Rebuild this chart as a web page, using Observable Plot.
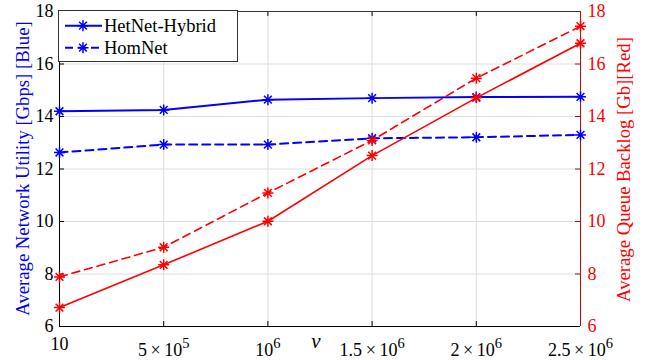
<!DOCTYPE html>
<html><head><meta charset="utf-8">
<script src="https://cdn.jsdelivr.net/npm/d3@7"></script>
<script src="https://cdn.jsdelivr.net/npm/@observablehq/plot@0.6"></script>
<style>body{margin:0;background:#fff;} #chart{width:655px;height:360px;} #chart svg text{font-family:"Liberation Serif","Times New Roman",serif !important;}</style>
</head><body><div id="chart"></div>
<script>
// ---- data ----
const nu = [10, 5e5, 1e6, 1.5e6, 2e6, 2.5e6];
const xTickLabels = ["10", "5\u2009×\u200910^5", "10^6", "1.5\u2009×\u200910^6", "2\u2009×\u200910^6", "2.5\u2009×\u200910^6"];
const yTicks = [6, 8, 10, 12, 14, 16, 18];
const hetNetUtility = [14.20, 14.25, 14.64, 14.70, 14.74, 14.75];
const homNetUtility = [12.63, 12.93, 12.93, 13.17, 13.21, 13.30];
const hetNetBacklog = [6.72, 8.35, 10.01, 12.51, 14.71, 16.79];
const homNetBacklog = [7.89, 9.02, 11.09, 13.09, 15.46, 17.44];
const legendLabels = ["HetNet-Hybrid", "HomNet"];

const rows = [];
[["hetU", hetNetUtility], ["homU", homNetUtility], ["hetB", hetNetBacklog], ["homB", homNetBacklog]]
  .forEach(([s, arr]) => arr.forEach((v, i) => rows.push({series: s, nu: nu[i], value: v})));

const W = 655, H = 360, mL = 59, mR = 75, mT = 11, mB = 34;
const fw = W - mL - mR, fh = H - mT - mB;
const BLUE = "#0000ff", RED = "#ff0000", DARKRED = "#b01010";

const asterisk = {
  draw(ctx, size) {
    const r = Math.sqrt(size / Math.PI), d = r * Math.SQRT1_2;
    ctx.moveTo(-r, 0); ctx.lineTo(r, 0);
    ctx.moveTo(0, -r); ctx.lineTo(0, r);
    ctx.moveTo(-d, -d); ctx.lineTo(d, d);
    ctx.moveTo(-d, d); ctx.lineTo(d, -d);
  }
};

const styles = {
  hetU: {stroke: BLUE, strokeWidth: 2},
  homU: {stroke: BLUE, strokeWidth: 2, strokeDasharray: "8,5"},
  hetB: {stroke: RED, strokeWidth: 1.6},
  homB: {stroke: RED, strokeWidth: 1.6, strokeDasharray: "8,5"}
};
const seriesMarks = [];
["hetU", "homU", "hetB", "homB"].forEach(s => {
  seriesMarks.push(Plot.line(rows, {filter: d => d.series === s, x: "nu", y: "value", ...styles[s]}));
  seriesMarks.push(Plot.dot(rows, {filter: d => d.series === s, x: "nu", y: "value", symbol: asterisk, r: 5.5, fill: "none", stroke: styles[s].stroke, strokeWidth: 1.5}));
});

const chart = Plot.plot({
  width: W, height: H, marginLeft: mL, marginRight: mR, marginTop: mT, marginBottom: mB,
  style: {fontFamily: "'Liberation Serif', serif", background: "#fff", overflow: "visible"},
  x: {domain: [10, 2.5e6]},
  y: {domain: [6, 18]},
  marks: [
    Plot.gridX(nu, {stroke: "#dedede", strokeOpacity: 1}),
    Plot.gridY(yTicks, {stroke: "#dedede", strokeOpacity: 1}),
    // inward ticks
    Plot.ruleX(nu, {x: d => d, insetTop: fh - 5, stroke: "#000"}),
    Plot.ruleX(nu, {x: d => d, insetBottom: fh - 5, stroke: "#000"}),
    Plot.ruleY(yTicks, {y: d => d, insetRight: fw - 5, stroke: "#000"}),
    Plot.ruleY(yTicks, {y: d => d, insetLeft: fw - 5, stroke: DARKRED}),
    // spines
    Plot.ruleY([18], {stroke: "#333"}),
    Plot.ruleY([6], {stroke: "#000"}),
    Plot.ruleX([10], {stroke: "#000"}),
    Plot.ruleX([2.5e6], {stroke: DARKRED}),
    Plot.axisY(yTicks, {anchor: "left", tickSize: 0, tickPadding: 6, fontSize: 18, label: null, color: "#000"}),
    Plot.axisY(yTicks, {anchor: "right", tickSize: 0, tickPadding: 7, fontSize: 18, label: null, color: RED}),
    Plot.axisX(nu, {anchor: "bottom", tickSize: 0, tickPadding: 11, fontSize: 18, label: null, color: "#000",
      tickFormat: d => xTickLabels[nu.indexOf(d)]}),
    ...seriesMarks
  ]
});
document.getElementById("chart").appendChild(chart);

const svg = d3.select(chart);
// superscripts on x tick labels
svg.selectAll('g[aria-label="x-axis tick label"] text').each(function () {
  const t = d3.select(this);
  const s = t.text();
  if (s.includes("^")) {
    const [base, sup] = s.split("^");
    t.text(null);
    t.append("tspan").attr("dy", 6).text(base);
    t.append("tspan").attr("dy", -8).attr("font-size", 14.5).text(sup);
  }
});

// axis titles
svg.append("text").attr("transform", "translate(22,168.5) rotate(-90)")
  .attr("text-anchor", "middle").attr("dominant-baseline", "central")
  .attr("fill", BLUE).attr("font-size", 18.7).text("Average Network Utility [Gbps] [Blue]");
svg.append("text").attr("transform", "translate(623,169.5) rotate(-90)")
  .attr("text-anchor", "middle").attr("dominant-baseline", "central")
  .attr("fill", RED).attr("font-size", 18.7).text("Average Queue Backlog [Gb][Red]");
svg.append("text").attr("x", 316).attr("y", 348).attr("text-anchor", "middle")
  .attr("font-style", "italic").attr("font-size", 21).text("ν");

// legend
const lg = svg.append("g");
lg.append("rect").attr("x", 58.5).attr("y", 10.5).attr("width", 179).attr("height", 51)
  .attr("fill", "#fff").attr("stroke", "#333");
[[25.7, null, legendLabels[0]], [47.7, "8,5", legendLabels[1]]].forEach(([y, dash, label]) => {
  lg.append("line").attr("x1", 65).attr("x2", 102).attr("y1", y).attr("y2", y)
    .attr("stroke", BLUE).attr("stroke-width", 2).attr("stroke-dasharray", dash);
  const p = d3.path(); asterisk.draw(p, Math.PI * 5.5 * 5.5);
  lg.append("path").attr("d", p.toString()).attr("transform", `translate(83,${y})`)
    .attr("fill", "none").attr("stroke", BLUE).attr("stroke-width", 1.5);
  lg.append("text").attr("x", 104).attr("y", y + 6).attr("text-anchor", "start")
    .attr("font-size", 18.5).attr("fill", "#000").text(label);
});
</script>
</body></html>
